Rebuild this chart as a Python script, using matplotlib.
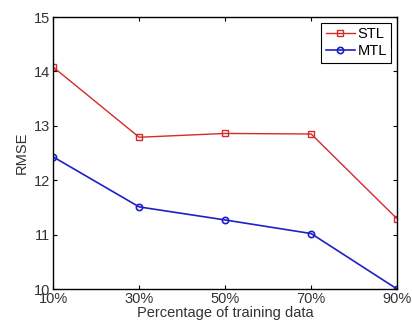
import matplotlib
matplotlib.use("Agg")
import matplotlib.pyplot as plt

# RMSE vs amount of training data
pct_labels = ["10%", "30%", "50%", "70%", "90%"]
stl_rmse = [14.08, 12.79, 12.86, 12.85, 11.29]
mtl_rmse = [12.43, 11.51, 11.27, 11.02, 10.00]

plt.rcParams["font.family"] = ["Liberation Sans", "DejaVu Sans"]
plt.rcParams["font.size"] = 10.5

fig = plt.figure(figsize=(4.12, 3.27), dpi=100)
ax = fig.add_axes([0.129, 0.116, 0.835, 0.832])

x = list(range(len(pct_labels)))
ax.plot(x, stl_rmse, color="#d42a2a", marker="s", markersize=4, markerfacecolor="none",
        markeredgewidth=1.0, linewidth=1.0, label="STL")
ax.plot(x, mtl_rmse, color="#1f1fc8", marker="o", markersize=4.5, markerfacecolor="none",
        markeredgewidth=1.2, linewidth=1.2, label="MTL")

ax.set_xlim(0, len(pct_labels) - 1)
ax.set_ylim(10, 15)
ax.set_xticks(x)
ax.set_xticklabels(pct_labels)
ax.set_yticks([10, 11, 12, 13, 14, 15])
ax.tick_params(direction="in", top=True, right=True, length=3, width=0.8, pad=2,
               labelcolor="#333333")
for s in ax.spines.values():
    s.set_linewidth(1.0)

ax.set_xlabel("Percentage of training data", labelpad=0, color="#333333")
ax.set_ylabel("RMSE", labelpad=4, color="#333333")

leg = ax.legend(loc="upper right", fancybox=False, edgecolor="black", framealpha=1,
                handlelength=2.0, borderpad=0.3, labelspacing=0.2, handletextpad=0.2,
                borderaxespad=0.4)
leg.get_frame().set_linewidth(0.8)

fig.savefig("out.png", dpi=100)
